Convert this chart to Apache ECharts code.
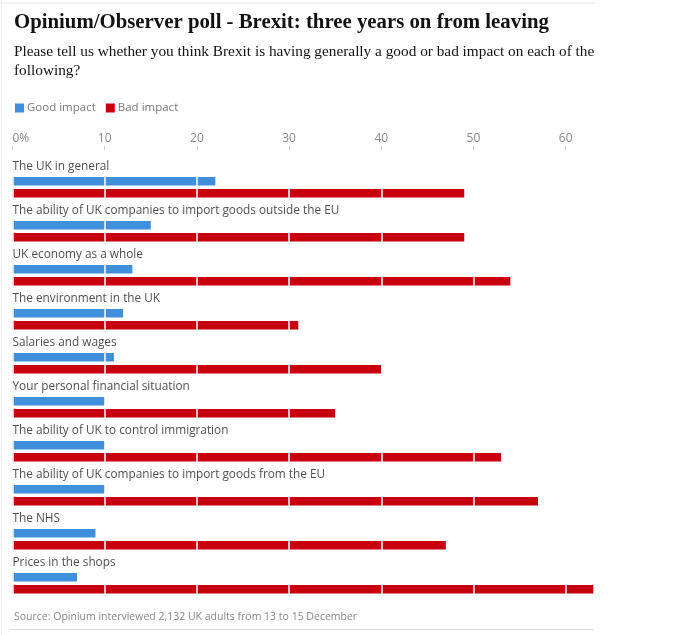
<!DOCTYPE html>
<html><head><meta charset="utf-8">
<script src="https://cdn.jsdelivr.net/npm/echarts@6/dist/echarts.min.js"></script>
<style>html,body{margin:0;padding:0;background:#fff}#c{width:690px;height:635px}</style>
</head><body><div id="c"></div>
<script>
const categories = [
  "The UK in general",
  "The ability of UK companies to import goods outside the EU",
  "UK economy as a whole",
  "The environment in the UK",
  "Salaries and wages",
  "Your personal financial situation",
  "The ability of UK to control immigration",
  "The ability of UK companies to import goods from the EU",
  "The NHS",
  "Prices in the shops"
];
const goodImpact = [22, 15, 13, 12, 11, 10, 10, 10, 9, 7];
const badImpact = [49, 49, 54, 31, 40, 35, 53, 57, 47, 63];
const tickValues = [0, 10, 20, 30, 40, 50, 60];
const titleText = "Opinium/Observer poll - Brexit: three years on from leaving";
const subtitleText = "Please tell us whether you think Brexit is having generally a good or bad impact on each of the\nfollowing?";
const sourceText = "Source: Opinium interviewed 2,132 UK adults from 13 to 15 December";

const chart = echarts.init(document.getElementById('c'), null, {renderer: 'canvas'});
const sans = "'Open Sans', 'Noto Sans', sans-serif";
chart.setOption({
  animation: false,
  backgroundColor: '#fff',
  title: [
    {text: titleText, left: 9, top: 7, textStyle: {fontFamily: "'Liberation Serif', serif", fontWeight: 'bold', fontSize: 20.8, color: '#121212'}},
    {text: subtitleText, left: 9, top: 37, textStyle: {fontFamily: "'Liberation Serif', serif", fontWeight: 'normal', fontSize: 15.3, lineHeight: 19.5, color: '#121212'}},
    {text: sourceText, left: 9, top: 607, textStyle: {fontFamily: sans, fontWeight: 'normal', fontSize: 10.5, color: '#888'}}
  ],
  legend: {
    left: 10, top: 97, itemWidth: 9, itemHeight: 9, itemGap: 10, icon: 'rect',
    textStyle: {fontFamily: sans, fontSize: 11.5, color: '#777', padding: [0, 0, 0, -2]},
    data: ['Good impact', 'Bad impact']
  },
  grid: {left: 12.5, right: 96.7, top: 165.3, height: 440, containLabel: false},
  xAxis: {
    type: 'value', position: 'top', min: 0, max: 63, interval: 10, offset: 15, z: 10,
    axisLine: {show: false},
    axisTick: {show: true, length: 4, customValues: tickValues, lineStyle: {color: '#ccc'}},
    axisLabel: {
      color: '#888', fontFamily: sans, fontSize: 12, margin: 6,
      alignMinLabel: 'left', customValues: tickValues,
      formatter: v => v === 0 ? '0%' : String(v)
    },
    splitLine: {show: true, lineStyle: {color: '#fff', width: 1.5}}
  },
  yAxis: {
    type: 'category', data: categories, inverse: true,
    axisLine: {show: false}, axisTick: {show: false}, axisLabel: {show: false}
  },
  series: [
    {
      name: 'Good impact', type: 'bar', data: goodImpact, barWidth: 8.5, barGap: '40%',
      itemStyle: {color: '#3e8fdc'}
    },
    {
      name: 'Bad impact', type: 'bar', data: badImpact, barWidth: 8.5,
      itemStyle: {color: '#c70010'}
    },
    {
      name: 'labels', type: 'scatter', z: 20, symbolSize: 0, silent: true,
      data: categories.map(c => [0, c]),
      label: {show: true, position: 'right', distance: 0, offset: [0, -20.8],
        formatter: p => p.value[1], color: '#222', fontFamily: sans, fontSize: 11.8}
    }
  ],
  graphic: [
    {type: 'line', shape: {x1: 0, y1: 3, x2: 595, y2: 3}, style: {stroke: '#e4e4e4', lineWidth: 1}},
    {type: 'line', shape: {x1: 1.5, y1: 0, x2: 1.5, y2: 635}, style: {stroke: '#eeeeee', lineWidth: 1}},
    {type: 'line', shape: {x1: 10, y1: 629.5, x2: 593, y2: 629.5}, style: {stroke: '#dddddd', lineWidth: 1}}
  ]
});
</script></body></html>
